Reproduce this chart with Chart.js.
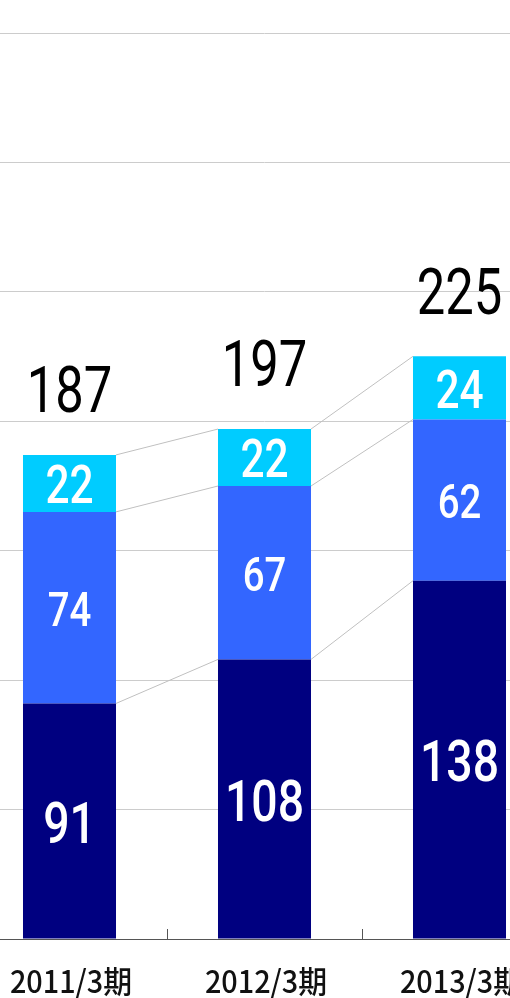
<!DOCTYPE html>
<html>
<head>
<meta charset="utf-8">
<script src="https://cdn.jsdelivr.net/npm/chart.js@4/dist/chart.umd.min.js"></script>
<style>
  html, body { margin: 0; padding: 0; background: #ffffff; overflow: hidden; }
  #wrap { position: absolute; left: -28px; top: 0; width: 585px; height: 998px; }
</style>
</head>
<body>
<div id="wrap"><canvas id="c" width="585" height="998"></canvas></div>
<script>
// ---- data ----
const categories = ['2011/3期', '2012/3期', '2013/3期'];
const bottomSeries = [91, 108, 138.4];   // navy
const middleSeries = [74, 67, 62.3];     // blue
const topSeries    = [22, 22, 24.4];     // cyan
const totals       = [187, 197, 225];
const yTicks       = [0, 50, 100, 150, 200, 250, 300, 350];

const colors = ['#000080', '#3366FF', '#00CCFF'];
const segFont = [58, 48, 53];
const SX = 0.8;

const overlay = {
  id: 'overlay',
  beforeDatasetsDraw(chart) {
    const ctx = chart.ctx;
    ctx.save();
    ctx.strokeStyle = '#c0c0c0';
    ctx.lineWidth = 1;
    chart.data.datasets.forEach((ds, d) => {
      const meta = chart.getDatasetMeta(d);
      for (let i = 0; i < meta.data.length - 1; i++) {
        const a = meta.data[i], b = meta.data[i + 1];
        ctx.beginPath();
        ctx.moveTo(a.x + a.width / 2, a.y);
        ctx.lineTo(b.x - b.width / 2, b.y);
        ctx.stroke();
      }
    });
    ctx.restore();
  },
  afterDraw(chart) {
    const ctx = chart.ctx;
    const xs = chart.scales.x;
    const area = chart.chartArea;
    ctx.save();
    ctx.strokeStyle = '#555555';
    ctx.lineWidth = 1;
    for (let i = 1; i < categories.length; i++) {
      const x = Math.round((xs.getPixelForValue(i - 1) + xs.getPixelForValue(i)) / 2) + 0.5;
      ctx.beginPath();
      ctx.moveTo(x, area.bottom);
      ctx.lineTo(x, area.bottom - 10);
      ctx.stroke();
    }
    ctx.restore();

    const drawText = (txt, x, y, font, color, sx) => {
      ctx.save();
      ctx.font = font;
      ctx.fillStyle = color;
      ctx.textAlign = 'center';
      ctx.textBaseline = 'alphabetic';
      ctx.translate(x, y);
      ctx.scale(sx, 1);
      ctx.fillText(txt, 0, 0);
      ctx.restore();
    };

    chart.data.datasets.forEach((ds, d) => {
      const meta = chart.getDatasetMeta(d);
      meta.data.forEach((bar, i) => {
        const cy = (bar.y + bar.base) / 2;
        const fs = segFont[d];
        drawText(String(Math.round(ds.data[i])), bar.x, cy + fs * 0.711 / 2 + 1,
          '500 ' + fs + 'px Roboto', '#ffffff', SX);
      });
    });
    const ys = chart.scales.y;
    totals.forEach((t, i) => {
      const x = xs.getPixelForValue(i);
      const y = ys.getPixelForValue(t);
      drawText(String(t), x, y - 43, '65px Roboto', '#000000', 0.78);
    });
    categories.forEach((c, i) => {
      const x = xs.getPixelForValue(i) + 1.5;
      drawText(c, x, 993, '500 31px "Noto Sans CJK JP"', '#111111', 0.93);
    });
  }
};

new Chart(document.getElementById('c'), {
  type: 'bar',
  data: {
    labels: categories,
    datasets: [
      { data: bottomSeries, backgroundColor: colors[0] },
      { data: middleSeries, backgroundColor: colors[1] },
      { data: topSeries,    backgroundColor: colors[2] }
    ]
  },
  options: {
    responsive: false,
    animation: false,
    devicePixelRatio: 1,
    layout: { padding: { top: 33, bottom: 59, left: 0, right: 0 } },
    datasets: { bar: { categoryPercentage: 1, barPercentage: 0.477 } },
    plugins: { legend: { display: false }, tooltip: { enabled: false } },
    scales: {
      x: {
        stacked: true,
        ticks: { display: false },
        grid: { display: false, drawTicks: false },
        border: { display: true, color: '#555555', width: 1 }
      },
      y: {
        stacked: true,
        min: 0,
        max: 350,
        afterBuildTicks(scale) { scale.ticks = yTicks.map(v => ({ value: v })); },
        ticks: { display: false },
        grid: { color: '#cccccc', lineWidth: 1, drawTicks: false },
        border: { display: false }
      }
    }
  },
  plugins: [overlay]
});
</script>
</body>
</html>
